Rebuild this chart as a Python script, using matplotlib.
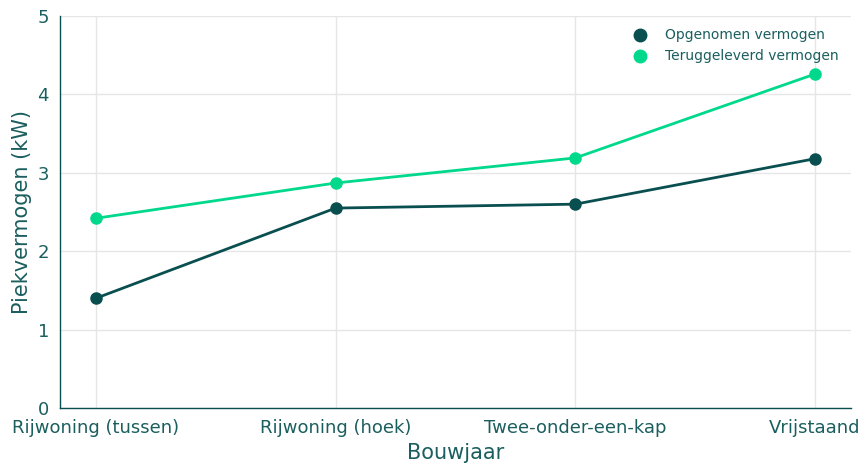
import matplotlib
matplotlib.use('Agg')
import matplotlib.pyplot as plt
from matplotlib.lines import Line2D

# data
woningtypes = ['Rijwoning (tussen)', 'Rijwoning (hoek)', 'Twee-onder-een-kap', 'Vrijstaand']
opgenomen = [1.40, 2.55, 2.60, 3.18]
teruggeleverd = [2.42, 2.87, 3.19, 4.26]

donker = '#0a4f50'
groen = '#00d98b'
tekst = '#1b5e5e'

fig = plt.figure(figsize=(8.61, 4.63), dpi=100)
ax = fig.add_axes([60/861, 55/463, 791/861, 392/463])

x = range(len(woningtypes))
ax.plot(x, opgenomen, color=donker, linewidth=2, marker='o', markersize=8, zorder=3)
ax.plot(x, teruggeleverd, color=groen, linewidth=2, marker='o', markersize=8, zorder=3)

ax.set_ylim(0, 5)
ax.set_xticks(list(x))
ax.set_xticklabels(woningtypes, fontsize=13, color=tekst)
ax.tick_params(axis='y', labelsize=13, labelcolor=tekst, length=0, pad=8)
ax.tick_params(axis='x', length=0, pad=8)
ax.set_xlabel('Bouwjaar', fontsize=15, color=tekst, labelpad=4)
ax.set_ylabel('Piekvermogen (kW)', fontsize=15, color=tekst)
ax.grid(True, color='#e6e6e6', linewidth=1)
ax.set_axisbelow(True)

for kant in ['top', 'right']:
    ax.spines[kant].set_visible(False)
for kant in ['left', 'bottom']:
    ax.spines[kant].set_color(donker)
    ax.spines[kant].set_linewidth(1)

handles = [
    Line2D([], [], marker='o', linestyle='', color=donker, markersize=9),
    Line2D([], [], marker='o', linestyle='', color=groen, markersize=9),
]
leg = ax.legend(handles, ['Opgenomen vermogen', 'Teruggeleverd vermogen'],
                loc='upper right', frameon=False, fontsize=10, handletextpad=0.8,
                bbox_to_anchor=(1.0, 1.0))
for t in leg.get_texts():
    t.set_color(tekst)

fig.savefig('out.png', dpi=100)
